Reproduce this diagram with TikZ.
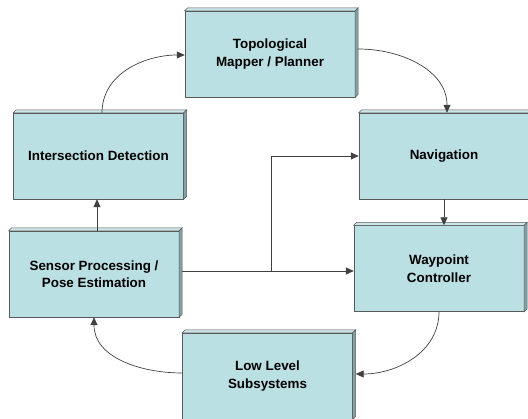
\documentclass[tikz,border=0pt]{standalone}
\usepackage{fontspec}
\setmainfont{Liberation Sans}
\usepackage{tikz}
\usetikzlibrary{arrows.meta}
\definecolor{boxfill}{HTML}{BBE0E3}
\definecolor{boxtop}{HTML}{CDE7E9}
\definecolor{boxside}{HTML}{7FA3A6}
\definecolor{boxline}{HTML}{5A5A5A}

\begin{document}
\begin{tikzpicture}[x=1pt, y=-1pt, >={Triangle[length=8pt,width=7pt]},
		block/.style={draw=boxline, fill=boxfill, minimum width=170pt, minimum height=86pt,
			inner sep=0pt, align=center, font=\fontsize{13.4}{17.5}\selectfont\bfseries},
		face/.style={draw=boxline, line width=0.5pt},
		link/.style={draw=black!75, line width=0.7pt}]
		\useasboundingbox (0,0) rectangle (528,419);
		
		\node[block] (topo) at (270,54) {Topological\\Mapper / Planner};
		\node[block] (inter) at (98.5,156) {Intersection Detection};
		\node[block] (sensor) at (94,274) {Sensor Processing /\\Pose Estimation};
		\node[block] (nav) at (444,156) {Navigation};
		\node[block] (way) at (439,268.5) {Waypoint\\Controller};
		\node[block] (low) at (267.5,376) {Low Level\\Subsystems};
		
		% top and right faces
		\foreach \b in {topo,inter,sensor,nav,way,low} {
			\draw[face, fill=boxtop] (\b.north west) -- ++(3,-3) -- ([shift={(3,-3)}]\b.north east) -- (\b.north east) -- cycle;
			\draw[face, fill=boxside] (\b.north east) -- ++(3,-3) -- ([shift={(3,-3)}]\b.south east) -- (\b.south east) -- cycle;
		}
		
		\coordinate (split) at (271,271);
		
		\draw[link, ->] ([xshift=3.5pt]inter.north) to[out=90, in=180] ([yshift=-1pt]topo.west);
		\draw[link, ->] ([shift={(3,-5)}]topo.east) to[out=0, in=90] ([xshift=3pt]nav.north);
		\draw[link, ->] (nav.south) -- (nav.south |- way.north);
		\draw[link, ->] (way.south) to[out=-90, in=0] ([shift={(3,-2)}]low.east);
		\draw[link, ->] ([yshift=3pt]low.west) to[out=180, in=-90] (sensor.south);
		\draw[link, ->] ([xshift=3pt]sensor.north) -- ([xshift=-1.5pt]inter.south);
		\draw[link] ([shift={(3,-3)}]sensor.east) -- (split);
		\draw[link, ->] (split) |- (nav.west);
		\draw[link, ->] (split) -- (split -| way.west);
		
	\end{tikzpicture}
\end{document}
